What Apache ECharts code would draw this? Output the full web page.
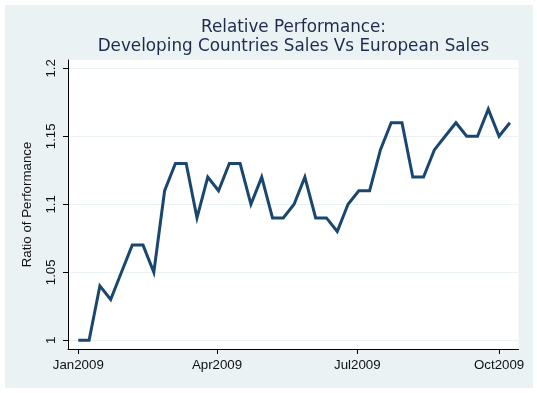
<!DOCTYPE html>
<html>
<head>
<meta charset="utf-8">
<script src="https://cdn.jsdelivr.net/npm/echarts@6/dist/echarts.min.js"></script>
<style>
  html, body { margin: 0; padding: 0; background: #ffffff; }
  #c { position: absolute; left: 5px; top: 5px; width: 528px; height: 383px; }
</style>
</head>
<body>
<div id="c"></div>
<script>
// Weekly observations
const weeks = [
  '2009-01-01','2009-01-08','2009-01-15','2009-01-22','2009-01-29',
  '2009-02-05','2009-02-12','2009-02-19','2009-02-26',
  '2009-03-05','2009-03-12','2009-03-19','2009-03-26',
  '2009-04-02','2009-04-09','2009-04-16','2009-04-23','2009-04-30',
  '2009-05-07','2009-05-14','2009-05-21','2009-05-28',
  '2009-06-04','2009-06-11','2009-06-18','2009-06-25',
  '2009-07-02','2009-07-09','2009-07-16','2009-07-23','2009-07-30',
  '2009-08-06','2009-08-13','2009-08-20','2009-08-27',
  '2009-09-03','2009-09-10','2009-09-17','2009-09-24',
  '2009-10-01','2009-10-08'
];
const ratio = [
  1.00, 1.00, 1.04, 1.03, 1.05,
  1.07, 1.07, 1.05, 1.11,
  1.13, 1.13, 1.09, 1.12,
  1.11, 1.13, 1.13, 1.10, 1.12,
  1.09, 1.09, 1.10, 1.12,
  1.09, 1.09, 1.08, 1.10,
  1.11, 1.11, 1.14, 1.16, 1.16,
  1.12, 1.12, 1.14, 1.15,
  1.16, 1.15, 1.15, 1.17,
  1.15, 1.16
];
const xTickDates = ['2009-01-01', '2009-04-01', '2009-07-01', '2009-10-01'];
const monthNames = ['Jan','Feb','Mar','Apr','May','Jun','Jul','Aug','Sep','Oct','Nov','Dec'];
const yTicks = [1, 1.05, 1.1, 1.15, 1.2];
const yTickLabels = ['1', '1.05', '1.1', '1.15', '1.2'];

const DAY = 86400000;
const t0 = Date.parse('2009-01-01');
const seriesData = weeks.map((w, i) => [Date.parse(w), ratio[i]]);
const xTicks = xTickDates.map(d => Date.parse(d));

const chart = echarts.init(document.getElementById('c'), null, { renderer: 'canvas' });
chart.setOption({
  animation: false,
  backgroundColor: '#eaf2f3',
  title: {
    text: 'Relative Performance:\nDeveloping Countries Sales Vs European Sales',
    left: 288.5,
    top: 13.5,
    textAlign: 'center',
    padding: 0,
    textStyle: {
      fontFamily: 'DejaVu Sans',
      fontSize: 16.8,
      fontWeight: 'normal',
      lineHeight: 19,
      color: '#1f2b4d'
    }
  },
  grid: {
    show: true,
    left: 63,
    top: 55,
    right: 14.5,
    bottom: 39,
    backgroundColor: '#ffffff',
    borderWidth: 0,
    containLabel: false
  },
  xAxis: {
    type: 'value',
    scale: true,
    min: t0 - 6.68 * DAY,
    max: t0 + 285.6 * DAY,
    axisLine: { show: true, onZero: false, lineStyle: { color: '#000000', width: 1 } },
    axisTick: { show: true, length: 5, inside: false, customValues: xTicks, lineStyle: { color: '#000000', width: 1 } },
    axisLabel: {
      customValues: xTicks,
      margin: 10,
      fontFamily: 'Liberation Sans',
      fontSize: 13.3,
      color: '#111111',
      formatter: function (v) {
        const d = new Date(v);
        return monthNames[d.getUTCMonth()] + d.getUTCFullYear();
      }
    },
    splitLine: { show: false },
    minorTick: { show: false }
  },
  yAxis: {
    type: 'value',
    min: 0.9936,
    max: 1.2061,
    name: 'Ratio of Performance',
    nameLocation: 'middle',
    nameGap: 34,
    nameTextStyle: {
      fontFamily: 'Liberation Sans',
      fontSize: 13.3,
      color: '#111111'
    },
    axisLine: { show: true, onZero: false, lineStyle: { color: '#000000', width: 1 } },
    axisTick: { show: true, length: 5, inside: false, customValues: yTicks, lineStyle: { color: '#000000', width: 1 } },
    axisLabel: {
      customValues: yTicks,
      rotate: 90,
      margin: 10,
      fontFamily: 'Liberation Sans',
      fontSize: 13.3,
      color: '#111111',
      formatter: function (v) {
        const i = yTicks.findIndex(t => Math.abs(t - v) < 1e-9);
        return i >= 0 ? yTickLabels[i] : '';
      }
    },
    splitLine: { show: true, lineStyle: { color: '#eaf2f3', width: 1 } }
  },
  series: [{
    type: 'line',
    data: seriesData,
    showSymbol: false,
    symbol: 'none',
    lineStyle: { color: '#1a476f', width: 3, join: 'miter' },
    itemStyle: { color: '#1a476f' }
  }]
});
</script>
</body>
</html>
